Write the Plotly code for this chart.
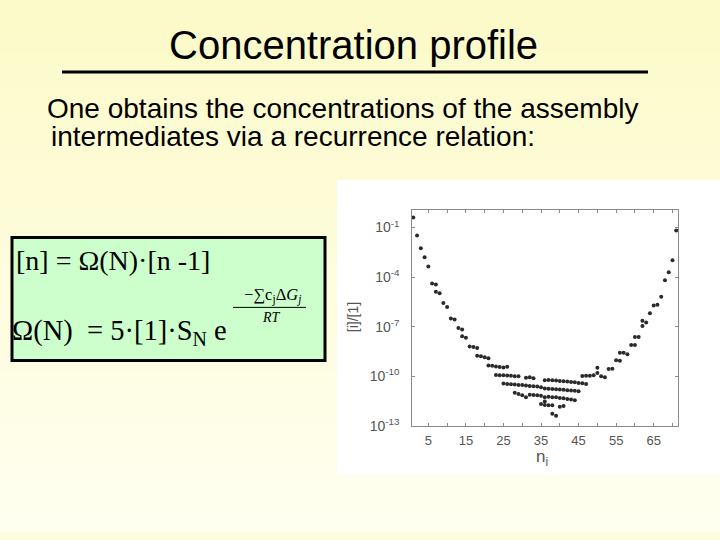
import plotly.graph_objects as go

# ---------------- data (n = assembly size, exponent = log10([i]/[1])) ----------------
left_n = [1, 2, 3, 4, 5, 6, 7, 7, 8, 9, 10, 11, 12, 13, 14, 14, 15, 16, 17, 18, 18, 19, 20, 21]
left_exp = [-0.39, -1.48, -2.25, -2.79, -3.36, -4.38, -4.44, -4.89, -4.97, -5.57, -5.81, -6.50,
            -6.56, -7.08, -7.16, -7.57, -7.66, -8.19, -8.23, -8.29, -8.75, -8.79, -8.85, -8.90]

upper_n = [21, 22, 23, 24, 25, 26]
upper_exp = [-9.34, -9.36, -9.40, -9.44, -9.46, -9.42]

rowA_n = [23, 24, 25, 26, 27, 28, 29, 31, 32, 33]
rowA_exp = [-9.92, -9.93, -9.94, -9.95, -9.97, -9.99, -10.00, -10.08, -10.06, -10.12]

rowA2_n = [36, 37, 38, 39, 40, 41, 42, 43, 44, 45, 46, 47]
rowA2_exp = [-10.24, -10.22, -10.24, -10.26, -10.28, -10.30, -10.32, -10.34, -10.36, -10.40, -10.42, -10.46]

rowB_n = [25, 26, 27, 28, 29, 30, 31, 32, 33, 34, 35, 36, 37, 38, 39, 40, 41, 42, 43, 44, 45]
rowB_exp = [-10.44, -10.46, -10.48, -10.49, -10.52, -10.53, -10.55, -10.58, -10.60, -10.62, -10.66,
            -10.74, -10.75, -10.77, -10.78, -10.80, -10.82, -10.84, -10.86, -10.88, -10.90]

rowC_n = [28, 29, 30, 31, 32, 33, 34, 35, 36, 37, 38, 39, 40, 41, 42, 43, 44]
rowC_exp = [-11.00, -11.07, -11.15, -11.27, -11.11, -11.13, -11.15, -11.17, -11.27, -11.24, -11.27,
            -11.27, -11.31, -11.33, -11.37, -11.41, -11.45]

rowD_n = [35, 36, 36, 37, 38, 40, 41, 38, 39]
rowD_exp = [-11.67, -11.73, -11.53, -11.75, -11.75, -11.84, -11.80, -12.27, -12.38]

right_n = [46, 47, 48, 49, 50, 50, 51, 52, 53, 54, 55, 56, 56, 57, 58, 59, 60, 60, 61, 62, 62,
           63, 64, 65, 66, 67, 68, 69, 70, 71, 72]
right_exp = [-9.98, -9.97, -9.96, -9.94, -9.48, -9.80, -10.00, -10.06, -9.56, -9.54, -9.03, -9.06,
             -8.57, -8.57, -8.67, -8.11, -8.11, -7.62, -7.62, -6.64, -6.96, -6.74, -6.18, -5.71,
             -5.67, -5.19, -4.18, -3.70, -2.97, -1.18, -0.42]

x_tick_vals = [5, 15, 25, 35, 45, 55, 65]
y_tick_exps = [-13, -10, -7, -4, -1]

title_text = "Concentration profile"
body_line1 = "One obtains the concentrations of the assembly"
body_line2 = "intermediates via a recurrence relation:"

# ---------------- helpers ----------------
W, H = 720, 540


def fx(x):
    return x / W


def fy(y):
    return 1 - y / H


all_n = left_n + upper_n + rowA_n + rowA2_n + rowB_n + rowC_n + rowD_n + right_n
all_exp = left_exp + upper_exp + rowA_exp + rowA2_exp + rowB_exp + rowC_exp + rowD_exp + right_exp
all_y = [10 ** e for e in all_exp]

fig = go.Figure()
fig.add_trace(go.Scatter(
    x=all_n, y=all_y, mode="markers",
    marker=dict(size=4, color="#2a2a2a", symbol="circle", line=dict(width=0)),
    cliponaxis=False, showlegend=False, hoverinfo="skip"))

shapes = []
# gradient background
top = (252, 250, 200)
bot = (255, 255, 240)
nb = 60
for i in range(nb):
    t = i / (nb - 1)
    c = tuple(int(round(top[k] + (bot[k] - top[k]) * t)) for k in range(3))
    y0 = H * i / nb
    y1 = H * (i + 1) / nb + 1
    shapes.append(dict(type="rect", xref="paper", yref="paper", layer="below",
                       x0=0, x1=1, y0=max(fy(y1), 0), y1=fy(y0),
                       fillcolor="rgb(%d,%d,%d)" % c, line=dict(width=0)))
# white picture area
shapes.append(dict(type="rect", xref="paper", yref="paper", layer="below",
                   x0=fx(337), x1=fx(720), y0=fy(482), y1=fy(183),
                   fillcolor="white", line=dict(width=0)))
# title underline
shapes.append(dict(type="line", xref="paper", yref="paper",
                   x0=fx(62), x1=fx(648), y0=fy(73), y1=fy(73),
                   line=dict(color="black", width=3)))
# green formula box
shapes.append(dict(type="rect", xref="paper", yref="paper",
                   x0=fx(12), x1=fx(325), y0=fy(366), y1=fy(241),
                   fillcolor="#CCFFCC", line=dict(color="black", width=3)))
# fraction line in exponent
shapes.append(dict(type="line", xref="paper", yref="paper",
                   x0=fx(233), x1=fx(306), y0=fy(312), y1=fy(312),
                   line=dict(color="black", width=1)))

sans = "Liberation Sans, Arial, sans-serif"
serif = "Liberation Serif, Times New Roman, serif"

annotations = [
    dict(text=title_text, x=fx(353), y=fy(46), xref="paper", yref="paper",
         showarrow=False, xanchor="center", yanchor="middle",
         font=dict(family=sans, size=40, color="black")),
    dict(text=body_line1, x=fx(45), y=fy(110), xref="paper", yref="paper",
         showarrow=False, xanchor="left", yanchor="middle",
         font=dict(family=sans, size=28, color="black")),
    dict(text=body_line2, x=fx(49), y=fy(139), xref="paper", yref="paper",
         showarrow=False, xanchor="left", yanchor="middle",
         font=dict(family=sans, size=28, color="black")),
    dict(text="[n] = Ω(N)·[n -1]", x=fx(14), y=fy(264), xref="paper", yref="paper",
         showarrow=False, xanchor="left", yanchor="middle",
         font=dict(family=serif, size=28, color="black")),
    dict(text="Ω(N)  = 5·[1]·S<sub>N</sub> e", x=fx(10), y=fy(338), xref="paper", yref="paper",
         showarrow=False, xanchor="left", yanchor="middle",
         font=dict(family=serif, size=28.5, color="black")),
    dict(text="−∑c<sub>j</sub>Δ<i>G<sub>j</sub></i>", x=fx(272), y=fy(300), xref="paper", yref="paper",
         showarrow=False, xanchor="center", yanchor="middle",
         font=dict(family=serif, size=16.5, color="black")),
    dict(text="<i>RT</i>", x=fx(271), y=fy(322), xref="paper", yref="paper",
         showarrow=False, xanchor="center", yanchor="middle",
         font=dict(family=serif, size=14, color="black")),
    dict(text="[i]/[1]", x=fx(353), y=fy(322), xref="paper", yref="paper",
         showarrow=False, xanchor="center", yanchor="middle", textangle=-90,
         font=dict(family=sans, size=14, color="#555555")),
    dict(text="n<sub>i</sub>", x=fx(542), y=fy(465), xref="paper", yref="paper",
         showarrow=False, xanchor="center", yanchor="middle",
         font=dict(family=sans, size=17, color="#555555")),
]

axis_common = dict(showline=True, linecolor="#8a8a8a", linewidth=1, mirror="ticks",
                   ticks="inside", ticklen=3, tickcolor="#8a8a8a", showgrid=False,
                   zeroline=False)

fig.update_layout(
    width=W, height=H, margin=dict(l=0, r=0, t=0, b=0),
    paper_bgcolor="rgb(253,252,220)", plot_bgcolor="white",
    shapes=shapes, annotations=annotations,
    xaxis=dict(domain=[fx(412.3), fx(678.3)], range=[0.73, 71.55],
               tickmode="array", tickvals=x_tick_vals,
               ticktext=[str(v) for v in x_tick_vals],
               tickfont=dict(family=sans, size=13, color="#555555"),
               ticklabelstandoff=3,
               minor=dict(tickmode="linear", tick0=0, dtick=5, ticks="inside", ticklen=3,
                          tickcolor="#8a8a8a"),
               **axis_common),
    yaxis=dict(domain=[fy(432.3), fy(213.3)], type="log", range=[-13, 0.055],
               tickmode="array", tickvals=[10 ** e for e in y_tick_exps],
               ticktext=["10<sup>%d</sup>" % e for e in y_tick_exps],
               tickfont=dict(family=sans, size=14, color="#555555"),
               ticklabelstandoff=9,
               **axis_common),
)

fig.write_html("out.html", config={"displayModeBar": False, "staticPlot": True},
               post_script="document.body.style.margin='0';document.body.style.padding='0';")
